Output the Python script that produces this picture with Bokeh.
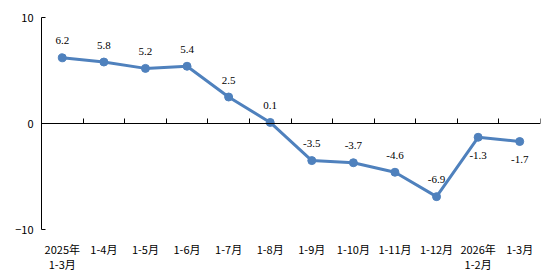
from bokeh.plotting import figure
from bokeh.models import LinearAxis, FixedTicker, Range1d, ColumnDataSource, LabelSet
from bokeh.embed import file_html
from bokeh.resources import INLINE

categories = ["2025年\n1-3月", "1-4月", "1-5月", "1-6月", "1-7月", "1-8月",
              "1-9月", "1-10月", "1-11月", "1-12月", "2026年\n1-2月", "1-3月"]
values = [6.2, 5.8, 5.2, 5.4, 2.5, 0.1, -3.5, -3.7, -4.6, -6.9, -1.3, -1.7]
label_below = [False] * 10 + [True, True]
y_ticks = [-10, 0, 10]

FONT = "Noto Sans CJK SC"
xs = [i + 0.5 for i in range(len(values))]
texts = [f"{v:.1f}" for v in values]

p = figure(frame_width=499, frame_height=212, output_backend="svg", toolbar_location=None,
           x_axis_type=None, y_axis_type=None,
           x_range=Range1d(0, len(values)), y_range=Range1d(-10, 10))
p.min_border_left = 41
p.min_border_right = 14
p.min_border_top = 17
p.min_border_bottom = 51
p.outline_line_color = None
p.xgrid.visible = False
p.ygrid.visible = False
p.background_fill_color = "white"
p.border_fill_color = "white"

# y axis
yax = LinearAxis(ticker=FixedTicker(ticks=y_ticks))
yax.major_tick_in = 4
yax.major_tick_out = 0
yax.minor_tick_line_color = None
yax.axis_line_color = "black"
yax.major_tick_line_color = "black"
yax.major_label_text_font = FONT
yax.major_label_text_font_size = "11px"
yax.major_label_text_color = "black"
yax.major_label_standoff = 8
p.add_layout(yax, "left")

# category label axis
xax = LinearAxis(ticker=FixedTicker(ticks=xs),
                 major_label_overrides={x: c for x, c in zip(xs, categories)})
xax.axis_line_color = None
xax.major_tick_line_color = None
xax.minor_tick_line_color = None
xax.major_label_text_font = FONT
xax.major_label_text_font_size = "11px"
xax.major_label_text_color = "black"
xax.major_label_standoff = 5
xax.major_label_text_line_height = 0.95
p.add_layout(xax, "below")

# zero axis line with boundary ticks
zax = LinearAxis(fixed_location=0, ticker=FixedTicker(ticks=list(range(len(values) + 1))))
zax.major_label_text_font_size = "0px"
zax.major_label_text_color = None
zax.major_tick_in = 5
zax.major_tick_out = 0
zax.minor_tick_line_color = None
zax.axis_line_color = "black"
zax.major_tick_line_color = "black"
p.add_layout(zax, "below")

color = "#4F81BD"
p.line(xs, values, line_color=color, line_width=3)
p.scatter(xs, values, size=8, fill_color=color, line_color=color)

above = ColumnDataSource(dict(x=[x for x, b in zip(xs, label_below) if not b],
                              y=[v for v, b in zip(values, label_below) if not b],
                              t=[t for t, b in zip(texts, label_below) if not b]))
below = ColumnDataSource(dict(x=[x for x, b in zip(xs, label_below) if b],
                              y=[v for v, b in zip(values, label_below) if b],
                              t=[t for t, b in zip(texts, label_below) if b]))
p.add_layout(LabelSet(x="x", y="y", text="t", source=above, y_offset=17,
                      text_align="center", text_baseline="middle",
                      text_font=FONT, text_font_size="11px", text_color="black"))
p.add_layout(LabelSet(x="x", y="y", text="t", source=below, y_offset=-18,
                      text_align="center", text_baseline="middle",
                      text_font=FONT, text_font_size="11px", text_color="black"))

open("out.html", "w").write(file_html(p, INLINE))
